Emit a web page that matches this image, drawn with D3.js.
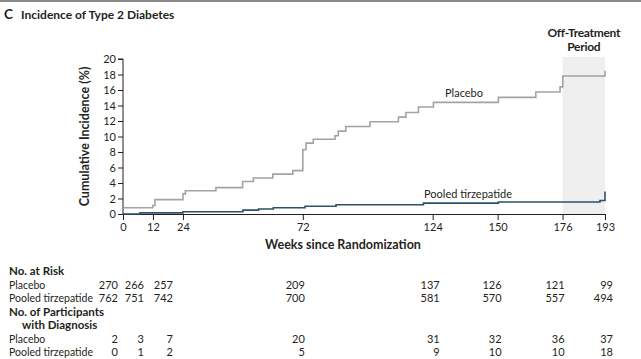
<!DOCTYPE html>
<html><head><meta charset="utf-8">
<script src="https://cdn.jsdelivr.net/npm/d3@7"></script>
<style>
body{margin:0;background:#fff;}
svg{display:block;font-family:Lato,"Noto Sans",sans-serif;}
</style></head>
<body><svg id="c" width="641" height="359"></svg>
<script>
// ---- data ----
const placeboWeeks  = [0, 11.9, 12.8, 24, 25, 37.2, 47.9, 52.2, 60, 68, 72, 73.3, 76.2, 84.9, 86.2, 89.2, 98.9, 110.3, 113.3, 118.3, 124.3, 150.3, 165.3, 175, 176.1, 193];
const placeboValues = [0.8, 1.1, 1.85, 2.6, 3.0, 3.4, 4.2, 4.65, 5.15, 5.6, 8.3, 9.15, 9.65, 10.1, 10.7, 11.3, 11.9, 12.5, 13.1, 13.8, 14.4, 15.05, 15.75, 16.4, 17.8, 18.5];
const tirzWeeks  = [0, 6.8, 24, 48, 54.3, 60.2, 72.9, 85.3, 120.3, 150.3, 191, 193];
const tirzValues = [0, 0.15, 0.3, 0.5, 0.65, 0.8, 1.0, 1.2, 1.4, 1.55, 1.75, 2.9];
const xTicks = [0, 12, 24, 72, 124, 150, 176, 193];
const yTicks = [0, 2, 4, 6, 8, 10, 12, 14, 16, 18, 20];
const riskPlacebo = [270, 266, 257, 209, 137, 126, 121, 99];
const riskTirz    = [762, 751, 742, 700, 581, 570, 557, 494];
const diagPlacebo = [2, 3, 7, 20, 31, 32, 36, 37];
const diagTirz    = [0, 1, 2, 5, 9, 10, 10, 18];
const offStart = 176, offEnd = 193;

// ---- layout ----
const svg = d3.select("#c");
const ink = "#231f20";
const x = d3.scaleLinear().domain([0, 193]).range([123, 605]);
const y = d3.scaleLinear().domain([0, 20]).range([214, 59]);

svg.append("rect").attr("x",0).attr("y",0).attr("width",641).attr("height",2).attr("fill","#8a8a8a");

svg.append("text").attr("x",4).attr("y",19).attr("font-weight","bold").attr("font-size",13.5).attr("fill",ink).text("C");
svg.append("text").attr("x",21).attr("y",19).attr("font-weight","bold").attr("font-size",12).attr("fill",ink).text("Incidence of Type 2 Diabetes");

// shaded off-treatment
svg.append("rect").attr("x",x(offStart)).attr("y",57).attr("width",x(offEnd)-x(offStart)).attr("height",y(0)-57).attr("fill","#efefef");
const ot = svg.append("text").attr("text-anchor","middle").attr("font-weight","bold").attr("font-size",12).attr("fill",ink).attr("letter-spacing",-0.3);
ot.append("tspan").attr("x",(x(offStart)+x(offEnd))/2).attr("y",37).text("Off-Treatment");
ot.append("tspan").attr("x",(x(offStart)+x(offEnd))/2).attr("y",51).text("Period");

// axes
const yAxis = d3.axisLeft(y).tickValues(yTicks).tickSize(5).tickPadding(2);
const gy = svg.append("g").attr("transform",`translate(${x(0)},0)`).call(yAxis);
const xAxis = d3.axisBottom(x).tickValues(xTicks).tickSize(6).tickPadding(3);
const gx = svg.append("g").attr("transform",`translate(0,${y(0)})`).call(xAxis);
[gx, gy].forEach(g=>{
  g.select(".domain").attr("stroke",ink).attr("stroke-width",1);
  g.selectAll(".tick line").attr("stroke",ink);
  g.selectAll(".tick text").attr("fill",ink).attr("font-size",11).attr("font-family","Lato,sans-serif");
});
gy.select(".domain").attr("d",`M-5,${y(20)}H0V${y(0)}`);

svg.append("text").attr("transform",`translate(89,${(y(0)+y(20))/2}) rotate(-90)`).attr("text-anchor","middle")
  .attr("font-weight","bold").attr("font-size",12.5).attr("fill",ink).text("Cumulative Incidence (%)");
svg.append("text").attr("x",343).attr("y",249).attr("text-anchor","middle")
  .attr("font-weight","bold").attr("font-size",12.5).attr("fill",ink).text("Weeks since Randomization");

// curves
const line = d3.line().x(d=>x(d[0])).y(d=>y(d[1])).curve(d3.curveStepAfter);
svg.append("path").datum(d3.zip(placeboWeeks, placeboValues)).attr("d",line).attr("fill","none").attr("stroke","#a3a3a3").attr("stroke-width",1.6);
svg.append("path").datum(d3.zip(tirzWeeks, tirzValues)).attr("d",line).attr("fill","none").attr("stroke","#2d5267").attr("stroke-width",1.6);

svg.append("text").attr("x",464).attr("y",97).attr("text-anchor","middle").attr("font-size",11).attr("fill",ink).text("Placebo");
svg.append("text").attr("x",468).attr("y",198).attr("text-anchor","middle").attr("font-size",11).attr("fill",ink).text("Pooled tirzepatide");

// table
const colShift = [-5, -9, -10, 2, 7, 4, 2, 8];
const rowLabels = [
  {t:"No. at Risk", y:275, b:true},
  {t:"Placebo", y:289, vals:riskPlacebo},
  {t:"Pooled tirzepatide", y:302, vals:riskTirz},
  {t:"No. of Participants", y:316, b:true},
  {t:"with Diagnosis", y:329, b:true, indent:13},
  {t:"Placebo", y:343, vals:diagPlacebo},
  {t:"Pooled tirzepatide", y:356, vals:diagTirz}
];
rowLabels.forEach(r=>{
  svg.append("text").attr("x",9+(r.indent||0)).attr("y",r.y).attr("font-size",r.b?11.5:10.5)
    .attr("font-weight",r.b?"bold":"normal").attr("fill",ink).text(r.t);
  if(r.vals){
    svg.selectAll(null).data(r.vals).enter().append("text")
      .attr("x",(d,i)=>x(xTicks[i])+colShift[i]).attr("y",r.y).attr("text-anchor","end")
      .attr("font-size",11).attr("fill",ink).text(d=>d);
  }
});
</script></body></html>
